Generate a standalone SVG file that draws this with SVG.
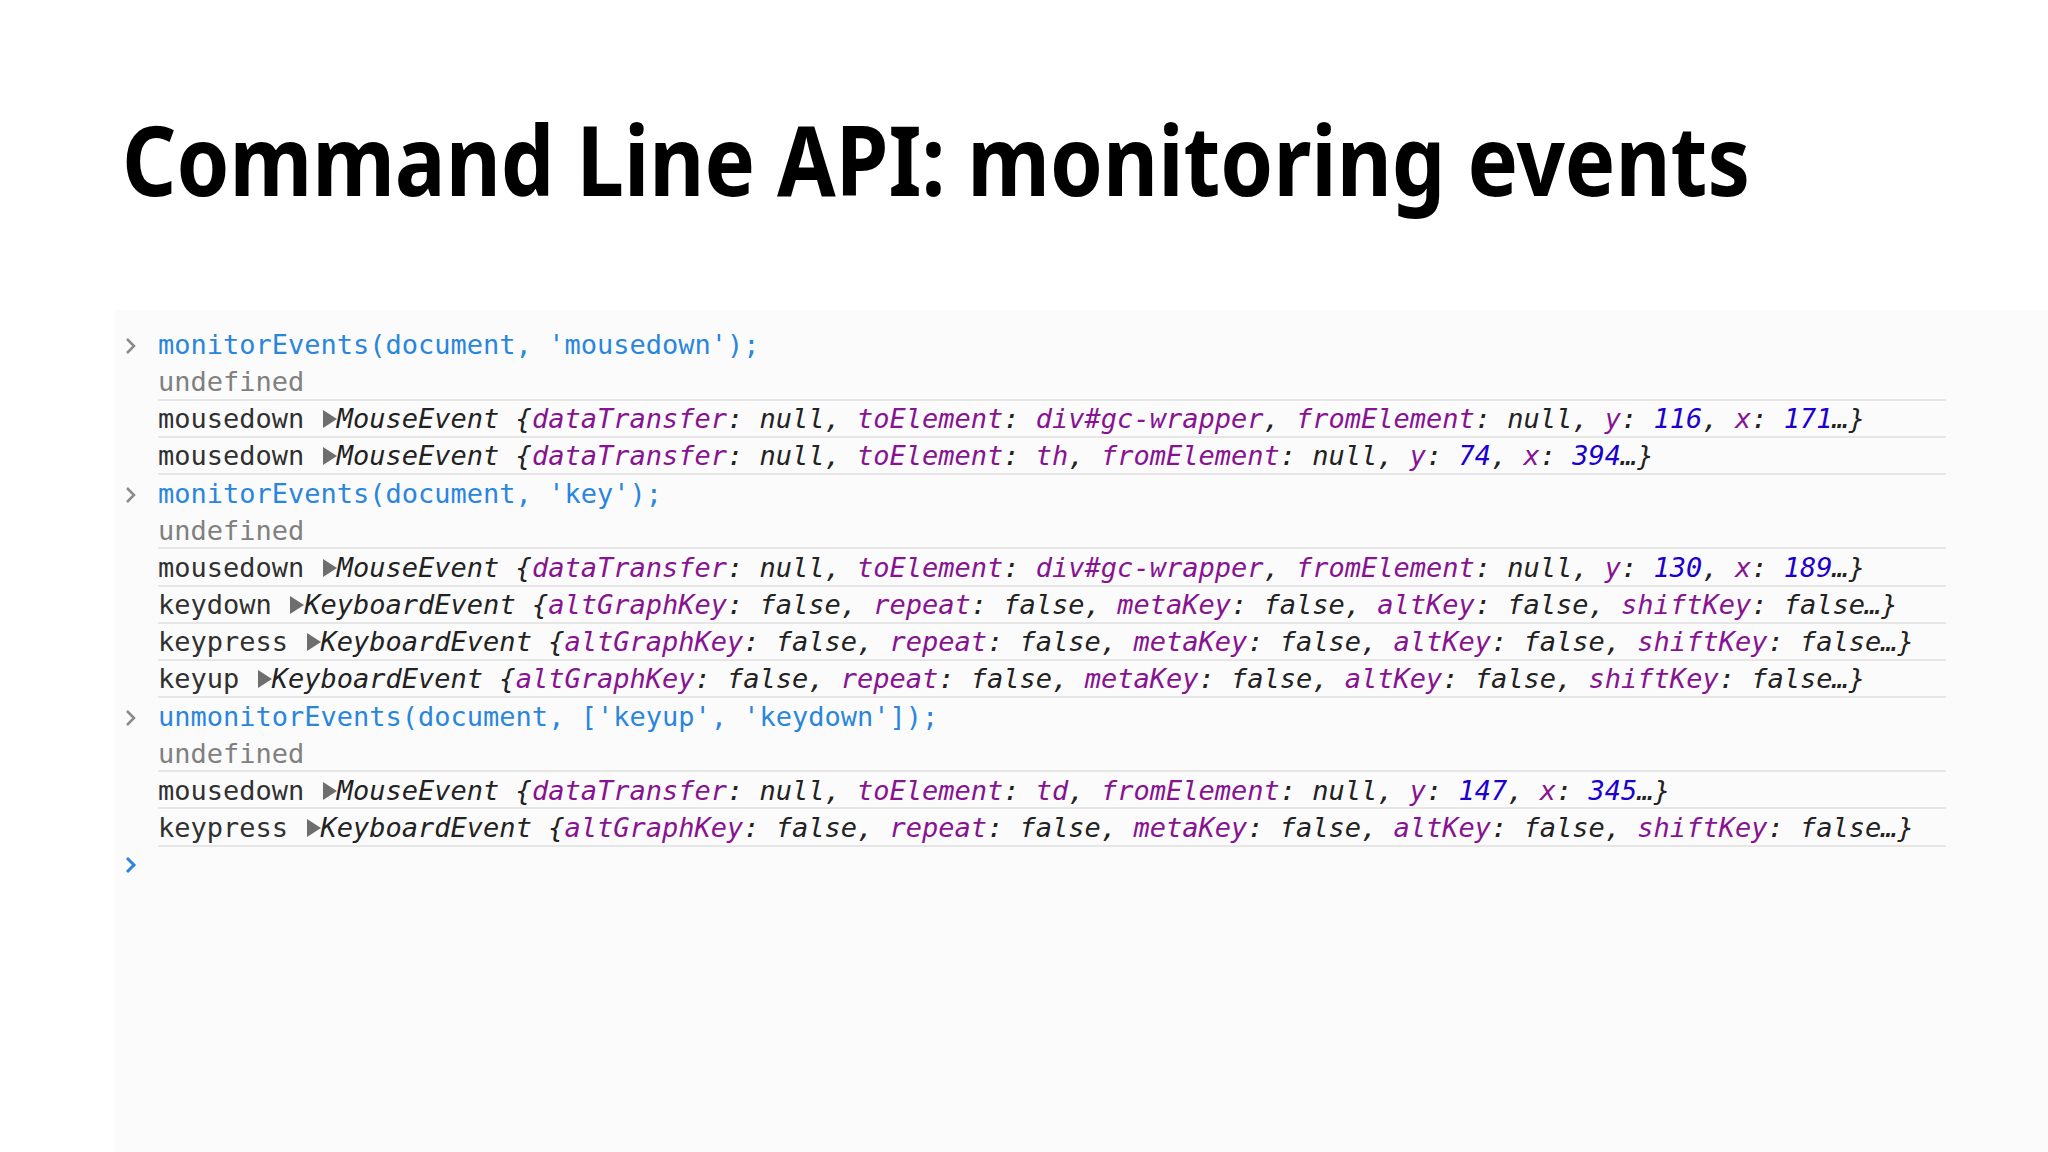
<svg xmlns="http://www.w3.org/2000/svg" width="2048" height="1152" viewBox="0 0 2048 1152">
<style>
.t{font-family:"DejaVu Sans Mono","Liberation Mono",monospace;font-size:27px;white-space:pre}
.in{fill:#2a86dc}.u{fill:#808080}.n{fill:#303030}.o{font-style:italic;fill:#222}.k{fill:#881391}.v{fill:#1c00cf}
.sep{stroke:#e6e6e6;stroke-width:2}
.pr{fill:none;stroke:#8a8a8a;stroke-width:2.5}
</style>
<rect width="2048" height="1152" fill="#fff"/>
<rect x="115" y="310" width="1933" height="842" fill="#fbfbfc"/>
<g id="title"><text x="122" y="196" font-family="Noto Sans, Open Sans, sans-serif" font-weight="bold" font-size="96" fill="#000" textLength="1628" lengthAdjust="spacingAndGlyphs">Command Line API: monitoring events</text></g>
<g id="separators">
<line class="sep" x1="158" y1="400" x2="1946" y2="400"/>
<line class="sep" x1="158" y1="437" x2="1946" y2="437"/>
<line class="sep" x1="158" y1="474" x2="1946" y2="474"/>
<line class="sep" x1="158" y1="548" x2="1946" y2="548"/>
<line class="sep" x1="158" y1="586" x2="1946" y2="586"/>
<line class="sep" x1="158" y1="623" x2="1946" y2="623"/>
<line class="sep" x1="158" y1="660" x2="1946" y2="660"/>
<line class="sep" x1="158" y1="697" x2="1946" y2="697"/>
<line class="sep" x1="158" y1="771" x2="1946" y2="771"/>
<line class="sep" x1="158" y1="808" x2="1946" y2="808"/>
<line class="sep" x1="158" y1="846" x2="1946" y2="846"/>
</g>
<g id="prompts">
<polyline class="pr" points="127,339 134,346 127,353"/>
<polyline class="pr" points="127,488 134,495 127,502"/>
<polyline class="pr" points="127,711 134,718 127,725"/>
<polyline points="127,858 134,865 127,872" fill="none" stroke="#2a86dc" stroke-width="3"/>
</g>
<g id="triangles" fill="#6e6e6e">
<polygon points="323,410 323,428 337,419"/>
<polygon points="323,447 323,465 337,456"/>
<polygon points="323,559 323,577 337,568"/>
<polygon points="290,596 290,614 304,605"/>
<polygon points="307,633 307,651 321,642"/>
<polygon points="258,670 258,688 272,679"/>
<polygon points="323,782 323,800 337,791"/>
<polygon points="307,819 307,837 321,828"/>
</g>
<g id="console">
<text class="t in" x="158" y="354">monitorEvents(document, 'mousedown');</text>
<text class="t u" x="158" y="391">undefined</text>
<text class="t" x="158" y="428"><tspan class="n">mousedown  </tspan><tspan class="o">MouseEvent {<tspan class="k">dataTransfer</tspan>: null, <tspan class="k">toElement</tspan>: <tspan class="k">div#gc-wrapper</tspan>, <tspan class="k">fromElement</tspan>: null, <tspan class="k">y</tspan>: <tspan class="v">116</tspan>, <tspan class="k">x</tspan>: <tspan class="v">171</tspan>…}</tspan></text>
<text class="t" x="158" y="465"><tspan class="n">mousedown  </tspan><tspan class="o">MouseEvent {<tspan class="k">dataTransfer</tspan>: null, <tspan class="k">toElement</tspan>: <tspan class="k">th</tspan>, <tspan class="k">fromElement</tspan>: null, <tspan class="k">y</tspan>: <tspan class="v">74</tspan>, <tspan class="k">x</tspan>: <tspan class="v">394</tspan>…}</tspan></text>
<text class="t in" x="158" y="503">monitorEvents(document, 'key');</text>
<text class="t u" x="158" y="540">undefined</text>
<text class="t" x="158" y="577"><tspan class="n">mousedown  </tspan><tspan class="o">MouseEvent {<tspan class="k">dataTransfer</tspan>: null, <tspan class="k">toElement</tspan>: <tspan class="k">div#gc-wrapper</tspan>, <tspan class="k">fromElement</tspan>: null, <tspan class="k">y</tspan>: <tspan class="v">130</tspan>, <tspan class="k">x</tspan>: <tspan class="v">189</tspan>…}</tspan></text>
<text class="t" x="158" y="614"><tspan class="n">keydown  </tspan><tspan class="o">KeyboardEvent {<tspan class="k">altGraphKey</tspan>: false, <tspan class="k">repeat</tspan>: false, <tspan class="k">metaKey</tspan>: false, <tspan class="k">altKey</tspan>: false, <tspan class="k">shiftKey</tspan>: false…}</tspan></text>
<text class="t" x="158" y="651"><tspan class="n">keypress  </tspan><tspan class="o">KeyboardEvent {<tspan class="k">altGraphKey</tspan>: false, <tspan class="k">repeat</tspan>: false, <tspan class="k">metaKey</tspan>: false, <tspan class="k">altKey</tspan>: false, <tspan class="k">shiftKey</tspan>: false…}</tspan></text>
<text class="t" x="158" y="688"><tspan class="n">keyup  </tspan><tspan class="o">KeyboardEvent {<tspan class="k">altGraphKey</tspan>: false, <tspan class="k">repeat</tspan>: false, <tspan class="k">metaKey</tspan>: false, <tspan class="k">altKey</tspan>: false, <tspan class="k">shiftKey</tspan>: false…}</tspan></text>
<text class="t in" x="158" y="726">unmonitorEvents(document, ['keyup', 'keydown']);</text>
<text class="t u" x="158" y="763">undefined</text>
<text class="t" x="158" y="800"><tspan class="n">mousedown  </tspan><tspan class="o">MouseEvent {<tspan class="k">dataTransfer</tspan>: null, <tspan class="k">toElement</tspan>: <tspan class="k">td</tspan>, <tspan class="k">fromElement</tspan>: null, <tspan class="k">y</tspan>: <tspan class="v">147</tspan>, <tspan class="k">x</tspan>: <tspan class="v">345</tspan>…}</tspan></text>
<text class="t" x="158" y="837"><tspan class="n">keypress  </tspan><tspan class="o">KeyboardEvent {<tspan class="k">altGraphKey</tspan>: false, <tspan class="k">repeat</tspan>: false, <tspan class="k">metaKey</tspan>: false, <tspan class="k">altKey</tspan>: false, <tspan class="k">shiftKey</tspan>: false…}</tspan></text>
</g>
</svg>
